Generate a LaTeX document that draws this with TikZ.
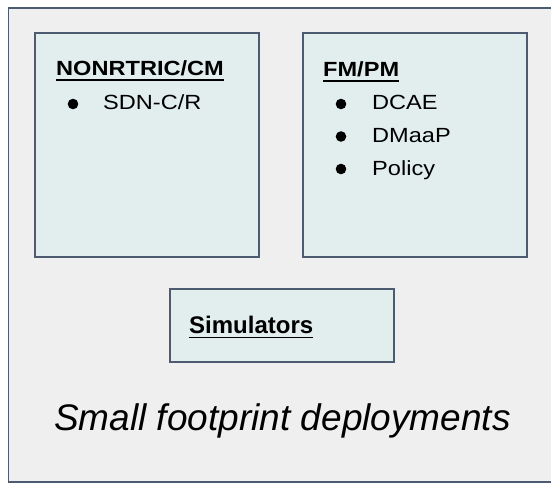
\documentclass[tikz,border=0pt]{standalone}
\usepackage{fontspec}
\setmainfont{Liberation Sans}
\newfontfamily\widesans[FakeStretch=1.15]{Liberation Sans}
\usetikzlibrary{positioning}
\definecolor{panelgray}{HTML}{EFEFEF}
\definecolor{boxfill}{HTML}{E2EEEE}
\definecolor{edgeblue}{HTML}{4C5B70}
\tikzset{
  group/.style={draw=edgeblue, line width=1.8pt, fill=boxfill, outer sep=0pt, inner sep=0pt, anchor=north west},
  head/.style={inner sep=0pt, anchor=base west, font=\widesans\fontsize{20.5}{24}\selectfont\bfseries},
  item/.style={inner sep=0pt, anchor=base west, font=\widesans\fontsize{20.5}{24}\selectfont},
  uline/.style={line width=1.8pt}
}
\begin{document}
\begin{tikzpicture}[x=1pt,y=-1pt]
\useasboundingbox (0,0) rectangle (551,484);
\clip (0,0) rectangle (551,484);
\fill[white] (0,0) rectangle (551,484);
\draw[edgeblue, fill=panelgray, line width=1.8pt] (8.5,8) rectangle (600,482);
% boxes
\node[group, minimum width=224pt, minimum height=224pt] (cm) at (35,33) {};
\node[group, minimum width=224pt, minimum height=224pt] (fm) at (303,33) {};
\node[group, minimum width=224pt, minimum height=73pt] (sim) at (170,289) {};
% NONRTRIC/CM
\node[head] (cmhead) at (56,76) {NONRTRIC/CM};
\draw[uline] ([yshift=-4pt]cmhead.base west) -- ([yshift=-4pt]cmhead.base east);
\node[item] (cm1) at (103,110) {SDN-C/R};
\fill (73,104) circle (5.3);
% FM/PM
\node[head] (fmhead) at (323,77) {FM/PM};
\draw[uline] ([yshift=-4pt]fmhead.base west) -- ([yshift=-4pt]fmhead.base east);
\foreach \txt [count=\i] in {DCAE,DMaaP,Policy}{
  \node[item] (fm\i) at (372,{110+32.5*(\i-1)}) {\txt};
  \fill (341,{104+32.5*(\i-1)}) circle (5.3);
}
% simulators
\node[inner sep=0pt, anchor=base west, font=\fontsize{24}{28}\selectfont\bfseries] (simhead) at (189,333.5) {Simulators};
\draw[uline] ([yshift=-4pt]simhead.base west) -- ([yshift=-4pt]simhead.base east);
% caption
\node[inner sep=0pt, anchor=base, font=\fontsize{37}{44}\selectfont\itshape] (caption) at (282.5,430) {Small footprint deployments};
\end{tikzpicture}
\end{document}
